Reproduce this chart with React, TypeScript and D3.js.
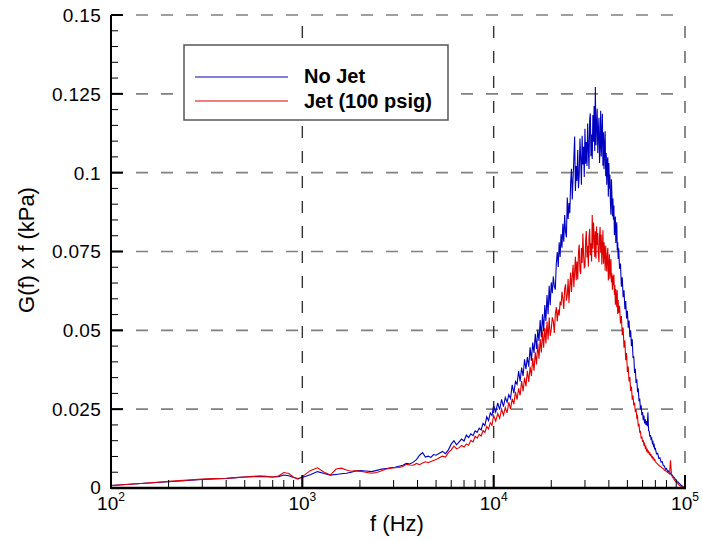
import React from 'react';
import * as d3 from 'd3';

// ---------- data (frequency in Hz, G(f) x f in kPa) ----------
const FREQ_A = [100,150,200,250,300,350,400,450,500,550,600,650,700,750,800,850,900,950,
  1000,1100,1200,1300,1400,1500,1600,1700,1800,1900];
const FREQ_B = [2000,2150,2300,2450,2600,2750,2900,3050,3200,3350,3500,3650,3800,3950,4100,4250,4400,4550,4700,4850,
  5000,5200,5400,5600,5800,6000,6200,6400,6600,6800,7000,7200,7400,7600,7800,8000,8200,8400,8600,8800,9000,9200,9400,9600,9800];
const FREQ_C = [10000,10250,10500,10750,11000,11250,11500,11750,12000,12250,12500,12750,13000,13250,13500,13750,14000,14250,14500,14750,
  15000,15250,15500,15750,16000,16250,16500,16750,17000,17250,17500,17750,18000,18250,18500,18750,19000,19250,19500,19750];
const FREQ_D = [20000,20250,20500,20750,21000,21250,21500,21750,22000,22250,
  22500,22750,23000,23250,23500,23750,24000,24250,24500,24750,
  25000,25250,25500,25750,26000,26250,26500,26750,27000,27250,
  27500,27750,28000,28250,28500,28750,29000,29250,29500,29750,
  30000,30250,30500,30750,31000,31250,31500,31750,32000,32250,
  32500,32750,33000,33250,33500,33750,34000,34250,34500,34750,
  35000,35250,35500,35750,36000,36250,36500,36750,37000,37250,
  37500,37750,38000,38250,38500,38750,39000,39250,39500,39750,
  40000,40250,40500,40750,41000,41250,41500,41750,42000,42250,
  42500,42750,43000,43250,43500,43750,44000,44250,44500,44750];
const FREQ_E = [45000,45500,46000,46500,47000,47500,48000,48500,49000,49500,
  50000,50500,51000,51500,52000,52500,53000,53500,54000,54500,
  55000,55500,56000,56500,57000,57500,58000,58500,59000,59500,
  60000,60500,61000,61500,62000,62500,63000,63500,64000,64500,
  65000,65500,66000,66500,67000,67500,68000,68500,69000,69500];
const FREQ_F = [70000,71000,72000,73000,74000,75000,76000,77000,78000,79000,
  80000,81000,82000,83000,84000,85000,86000,87000,88000,89000,
  90000,91000,92000,93000,94000,95000,96000,97000,98000,99000,100000];

const NOJET_A = [0.0008,0.0015,0.0020,0.0024,0.0027,0.0029,0.0030,0.0033,0.0035,0.0036,0.0037,0.0036,0.0035,0.0036,0.0041,0.0039,0.0033,0.0030,
  0.0033,0.0042,0.0052,0.0046,0.0041,0.0043,0.0045,0.0047,0.0050,0.0054];
const JET_A = [0.0008,0.0015,0.0021,0.0025,0.0028,0.0030,0.0031,0.0033,0.0035,0.0037,0.0038,0.0037,0.0035,0.0038,0.0049,0.0046,0.0034,0.0028,
  0.0036,0.0055,0.0064,0.0050,0.0041,0.0060,0.0063,0.0057,0.0053,0.0055];

const NOJET_B = [0.0055,0.0054,0.0052,0.0056,0.0060,0.0062,0.0064,0.0066,0.0069,0.0072,0.0078,0.0076,0.0082,0.0090,0.0104,0.0112,0.0098,0.0101,0.0097,0.0106,
  0.0104,0.0110,0.0116,0.0109,0.0121,0.0139,0.0150,0.0137,0.0146,0.0155,0.0149,0.0168,0.0160,0.0172,0.0166,0.0181,0.0176,0.0190,0.0184,0.0205,0.0198,0.0226,0.0214,0.0238,0.0230];
const JET_B = [0.0053,0.0050,0.0047,0.0049,0.0055,0.0060,0.0063,0.0064,0.0065,0.0068,0.0075,0.0073,0.0072,0.0078,0.0074,0.0079,0.0083,0.0080,0.0084,0.0087,
  0.0090,0.0096,0.0101,0.0098,0.0112,0.0121,0.0133,0.0124,0.0128,0.0135,0.0130,0.0140,0.0136,0.0151,0.0146,0.0164,0.0158,0.0170,0.0165,0.0182,0.0176,0.0195,0.0187,0.0207,0.0199];

const NOJET_C = [0.0262,0.0241,0.0270,0.0249,0.0281,0.0258,0.0287,0.0272,0.0296,0.0284,0.0327,0.0301,0.0338,0.0329,0.0371,0.0338,0.0382,0.0355,0.0408,0.0377,
  0.0415,0.0385,0.0446,0.0404,0.0461,0.0428,0.0489,0.0441,0.0502,0.0466,0.0533,0.0478,0.0551,0.0497,0.0580,0.0530,0.0612,0.0551,0.0641,0.0580];
const JET_C = [0.0230,0.0212,0.0236,0.0221,0.0250,0.0231,0.0255,0.0238,0.0272,0.0250,0.0283,0.0266,0.0305,0.0280,0.0316,0.0294,0.0339,0.0306,0.0350,0.0322,
  0.0372,0.0336,0.0385,0.0355,0.0412,0.0372,0.0430,0.0392,0.0458,0.0410,0.0472,0.0430,0.0497,0.0445,0.0508,0.0458,0.0528,0.0470,0.0541,0.0482];

const NOJET_D = [0.0652,0.0618,0.0671,0.0640,0.0629,0.0712,0.0748,0.0701,0.0779,0.0733,
  0.0805,0.0762,0.0838,0.0781,0.0866,0.0812,0.0795,0.0921,0.0853,0.0904,
  0.0871,0.0968,0.1012,0.0915,0.0982,0.1046,0.1115,0.0942,0.1021,0.0974,
  0.1072,0.0951,0.0994,0.1108,0.1043,0.0962,0.1117,0.1026,0.1082,0.0986,
  0.1139,0.1028,0.1097,0.1021,0.1156,0.1074,0.1012,0.1168,0.1188,0.1052,
  0.1121,0.1043,0.1183,0.1098,0.1211,0.1069,0.1272,0.1087,0.1146,0.1203,
  0.1062,0.1129,0.1174,0.1031,0.1089,0.1196,0.1051,0.1118,0.1187,0.1022,
  0.1128,0.1011,0.1086,0.1131,0.0989,0.1062,0.0962,0.1035,0.1049,0.0924,
  0.1031,0.0949,0.0993,0.0908,0.0867,0.0979,0.0931,0.0862,0.0918,0.0851,
  0.0896,0.0802,0.0829,0.0861,0.0777,0.0812,0.0843,0.0754,0.0779,0.0726];
const JET_D = [0.0503,0.0541,0.0529,0.0492,0.0551,0.0574,0.0528,0.0566,0.0547,0.0591,
  0.0579,0.0622,0.0601,0.0568,0.0632,0.0646,0.0594,0.0612,0.0663,0.0587,
  0.0641,0.0683,0.0622,0.0669,0.0708,0.0637,0.0687,0.0733,0.0659,0.0718,
  0.0661,0.0748,0.0772,0.0688,0.0679,0.0761,0.0714,0.0807,0.0742,0.0699,
  0.0703,0.0786,0.0815,0.0731,0.0768,0.0702,0.0795,0.0822,0.0738,0.0776,
  0.0718,0.0866,0.0759,0.0842,0.0801,0.0733,0.0814,0.0728,0.0829,0.0771,
  0.0809,0.0741,0.0716,0.0798,0.0828,0.0746,0.0803,0.0709,0.0762,0.0817,
  0.0711,0.0779,0.0752,0.0689,0.0768,0.0721,0.0687,0.0744,0.0761,0.0658,
  0.0694,0.0741,0.0664,0.0708,0.0726,0.0652,0.0681,0.0629,0.0673,0.0642,
  0.0677,0.0613,0.0644,0.0581,0.0631,0.0603,0.0573,0.0627,0.0552,0.0596];

const NOJET_E = [0.0760,0.0695,0.0712,0.0638,0.0668,0.0605,0.0627,0.0567,0.0593,0.0538,
  0.0562,0.0508,0.0531,0.0478,0.0500,0.0450,0.0472,0.0412,0.0418,0.0365,
  0.0378,0.0333,0.0345,0.0304,0.0316,0.0275,0.0284,0.0249,0.0262,0.0231,
  0.0241,0.0215,0.0230,0.0205,0.0218,0.0200,0.0212,0.0196,0.0240,0.0182,
  0.0180,0.0163,0.0168,0.0152,0.0157,0.0142,0.0146,0.0133,0.0137,0.0124];
const JET_E = [0.0555,0.0578,0.0522,0.0545,0.0485,0.0509,0.0445,0.0468,0.0405,0.0428,
  0.0368,0.0385,0.0338,0.0352,0.0308,0.0322,0.0280,0.0293,0.0262,0.0271,
  0.0241,0.0250,0.0223,0.0228,0.0195,0.0204,0.0175,0.0181,0.0157,0.0163,
  0.0146,0.0152,0.0137,0.0141,0.0127,0.0131,0.0118,0.0122,0.0113,0.0116,
  0.0108,0.0111,0.0103,0.0105,0.0098,0.0100,0.0093,0.0095,0.0088,0.0090];

const NOJET_F = [0.0125,0.0108,0.0110,0.0094,0.0096,0.0082,0.0084,0.0071,0.0070,0.0060,
  0.0062,0.0053,0.0054,0.0046,0.0047,0.0040,0.0041,0.0034,0.0033,0.0027,
  0.0026,0.0020,0.0019,0.0015,0.0013,0.0010,0.0008,0.0006,0.0004,0.0002,0.0000];
const JET_F = [0.0084,0.0079,0.0076,0.0072,0.0069,0.0067,0.0063,0.0061,0.0057,0.0055,
  0.0052,0.0050,0.0048,0.0045,0.0088,0.0042,0.0036,0.0030,0.0026,0.0022,
  0.0019,0.0016,0.0013,0.0010,0.0008,0.0006,0.0004,0.0003,0.0002,0.0001,0.0000];

const FREQ = [...FREQ_A, ...FREQ_B, ...FREQ_C, ...FREQ_D, ...FREQ_E, ...FREQ_F];
const NO_JET = [...NOJET_A, ...NOJET_B, ...NOJET_C, ...NOJET_D, ...NOJET_E, ...NOJET_F];
const JET = [...JET_A, ...JET_B, ...JET_C, ...JET_D, ...JET_E, ...JET_F];

const SERIES_NAMES = ['No Jet', 'Jet (100 psig)'];
const SERIES_COLORS = ['#0000c0', '#e00000'];

const Y_TICKS = [0, 0.025, 0.05, 0.075, 0.1, 0.125, 0.15];
const Y_TICK_LABELS = ['0', '0.025', '0.05', '0.075', '0.1', '0.125', '0.15'];
const X_DECADES = [100, 1000, 10000, 100000];
const X_EXPONENTS = ['2', '3', '4', '5'];
const X_TITLE = 'f (Hz)';
const Y_TITLE = 'G(f) x f (kPa)';

const FONT = '"Liberation Sans", Arial, Helvetica, sans-serif';

export default function App() {
  const W = 703, H = 541;
  const x = d3.scaleLog().domain([100, 100000]).range([111, 685]);
  const y = d3.scaleLinear().domain([0, 0.15]).range([488, 15]);
  const x0 = x.range()[0], x1 = x.range()[1];
  const y0 = y.range()[0], y1 = y.range()[1];

  const mkLine = (vals: number[]) =>
    d3.line<number>().x((_, i) => x(FREQ[i])).y((d) => y(d))(vals) || '';

  const yMinor: number[] = [];
  for (let i = 0; i < Y_TICKS.length - 1; i++) {
    const step = (Y_TICKS[i + 1] - Y_TICKS[i]) / 5;
    for (let k = 1; k < 5; k++) yMinor.push(Y_TICKS[i] + step * k);
  }
  const xMinor: number[] = [];
  for (let i = 0; i < X_DECADES.length - 1; i++) {
    for (let k = 2; k <= 9; k++) xMinor.push(X_DECADES[i] * k);
  }

  return (
    <svg width={W} height={H} style={{ position: 'absolute', left: 0, top: 0, background: '#fff' }}
      fontFamily={FONT}>
      <rect x={0} y={0} width={W} height={H} fill="#fff" />
      {/* horizontal grid */}
      {Y_TICKS.slice(1).map((t) => (
        <line key={'hg' + t} x1={x0} x2={x1} y1={y(t)} y2={y(t)}
          stroke="#808080" strokeWidth={1.6} strokeDasharray="12 13" />
      ))}
      {/* vertical grid */}
      {X_DECADES.slice(1).map((d, i) => (
        <line key={'vg' + d} x1={x(d)} x2={x(d)} y1={y0} y2={y1}
          stroke={i === X_DECADES.length - 2 ? '#8a8a8a' : '#333'}
          strokeWidth={i === X_DECADES.length - 2 ? 2 : 1.4} strokeDasharray="12 13" />
      ))}

      {/* curves */}
      <path d={mkLine(NO_JET)} fill="none" stroke={SERIES_COLORS[0]} strokeWidth={1.1} />
      <path d={mkLine(JET)} fill="none" stroke={SERIES_COLORS[1]} strokeWidth={1.1} />

      {/* axes */}
      <line x1={x0} x2={x0} y1={y0 + 1} y2={y1} stroke="#000" strokeWidth={2} />
      <line x1={x0} x2={x1 + 1} y1={y0} y2={y0} stroke="#000" strokeWidth={2.4} />
      {Y_TICKS.map((t) => (
        <line key={'yt' + t} x1={x0} x2={x0 + 12} y1={y(t)} y2={y(t)} stroke="#000" strokeWidth={2} />
      ))}
      {yMinor.map((t, i) => (
        <line key={'ym' + i} x1={x0} x2={x0 + 7} y1={y(t)} y2={y(t)} stroke="#000" strokeWidth={1} />
      ))}
      {X_DECADES.map((d) => (
        <line key={'xt' + d} x1={x(d)} x2={x(d)} y1={y0} y2={y0 - 13} stroke="#000" strokeWidth={2} />
      ))}
      {xMinor.map((d, i) => (
        <line key={'xm' + i} x1={x(d)} x2={x(d)} y1={y0} y2={y0 - 8} stroke="#000" strokeWidth={1} />
      ))}

      {/* tick labels */}
      {Y_TICKS.map((t, i) => (
        <text key={'yl' + t} x={x0 - 10} y={y(t) - (i === 0 ? 1 : 0)} dy="0.36em" textAnchor="end" fontSize={19}
          letterSpacing={0.3} fill="#000">{Y_TICK_LABELS[i]}</text>
      ))}
      {X_DECADES.map((d, i) => (
        <text key={'xl' + d} x={x(d)} y={510} textAnchor="middle" fontSize={19} fill="#000">
          10<tspan dy={-9} fontSize={12}>{X_EXPONENTS[i]}</tspan>
        </text>
      ))}

      {/* axis titles */}
      <text x={397} y={531} textAnchor="middle" fontSize={22} fill="#000">{X_TITLE}</text>
      <text transform="translate(34,250) rotate(-90)" textAnchor="middle" fontSize={22} fill="#000">{Y_TITLE}</text>

      {/* legend */}
      <rect x={184} y={45} width={264} height={75} fill="#fff" stroke="#555" strokeWidth={1.5} />
      <line x1={195} x2={288} y1={77} y2={77} stroke={SERIES_COLORS[0]} strokeWidth={1} />
      <line x1={195} x2={288} y1={101} y2={101} stroke={SERIES_COLORS[1]} strokeWidth={1} />
      <text x={304} y={83} fontSize={20} fontWeight="bold" fill="#000">{SERIES_NAMES[0]}</text>
      <text x={304} y={108} fontSize={20} fontWeight="bold" fill="#000">{SERIES_NAMES[1]}</text>
    </svg>
  );
}
